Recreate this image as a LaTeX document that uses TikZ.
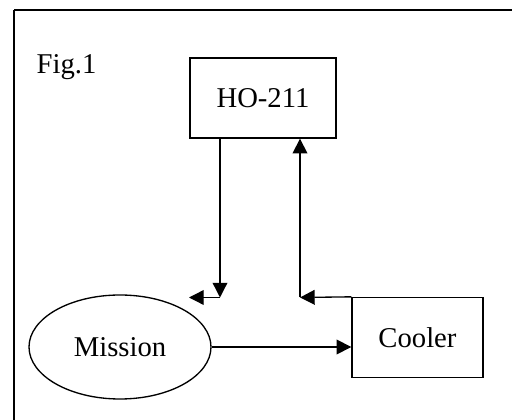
\documentclass[tikz,border=0pt]{standalone}
\usepackage{fontspec}
\setmainfont{Liberation Serif}
\usetikzlibrary{arrows.meta,shapes.geometric}

\tikzset{every picture/.style={line width=1pt}}
\tikzset{
  blockbox/.style={draw, rectangle, inner sep=0pt, font=\fontsize{21.5}{26}\selectfont},
  roundbox/.style={draw, ellipse, inner sep=0pt, font=\fontsize{21.5}{26}\selectfont},
  flowarrow/.style={-{Triangle[length=11pt,width=11pt]}}
}

\begin{document}
\begin{tikzpicture}[x=0.75pt,y=0.75pt,yscale=-1,xscale=1]
\useasboundingbox (0,0) rectangle (512,420);

%Frame
\draw (14,10) -- (530,10) ;
\draw (14,10) -- (14,440) ;

% Text Node
\node (figlabel) [anchor=base, font=\fontsize{21.5}{26}\selectfont] at (66.5,74) {Fig.1};

%Shape: Rectangle
\node (ho) [blockbox, minimum width=109.5pt, minimum height=60pt] at (263,98) {HO-211};
%Shape: Rectangle
\node (cooler) [blockbox, minimum width=98.25pt, minimum height=60pt] at (417.5,337.5) {Cooler};
%Shape: Ellipse
\node (mission) [roundbox, minimum width=136.5pt, minimum height=78pt] at (120,347) {Mission};

%Corners
\coordinate (downend) at (220,297.5) ;
\coordinate (leftend) at (189,297.5) ;
\coordinate (upcorner) at (300,297.5) ;

%Straight Lines
\draw [flowarrow] (downend |- ho.south) -- (downend) ;
\draw [flowarrow] (downend) -- (leftend) ;
\draw [flowarrow] (cooler.north west) -- (upcorner) ;
\draw [flowarrow] (upcorner) -- (upcorner |- ho.south) ;
\draw [flowarrow] (mission.east) -- (mission.east -| cooler.west) ;

\end{tikzpicture}
\end{document}
